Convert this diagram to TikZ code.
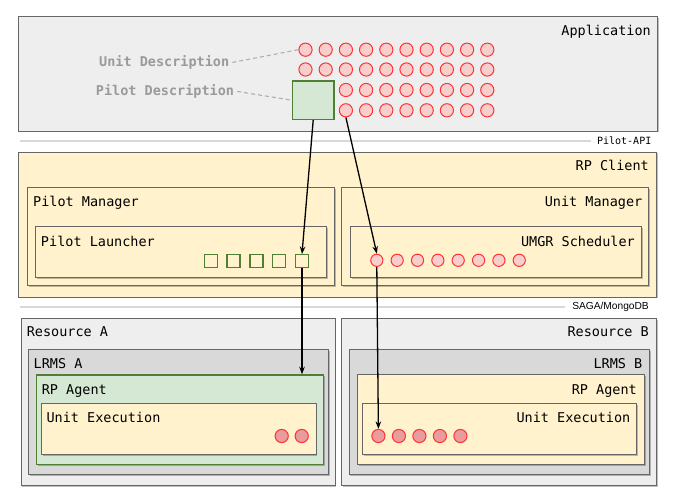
\documentclass[tikz,border=0pt]{standalone}
\usepackage{fontspec}
\setmonofont{DejaVu Sans Mono}
\newfontfamily\labsans{Liberation Sans}
\usetikzlibrary{shadows,arrows.meta}
\definecolor{grayfill}{HTML}{EEEEEE}
\definecolor{lrmsfill}{HTML}{D9D9D9}
\definecolor{yellowfill}{HTML}{FFF2CC}
\definecolor{greenfill}{HTML}{D5E8D4}
\definecolor{greenline}{HTML}{4F7F32}
\definecolor{boxline}{HTML}{666666}
\definecolor{redline}{HTML}{FF3333}
\definecolor{redfill}{HTML}{F8CECC}
\definecolor{execfill}{HTML}{EA9B9B}
\definecolor{desc}{HTML}{9A9A9A}
\definecolor{apiline}{HTML}{D8D8D8}
\begin{document}
\begin{tikzpicture}[x=1pt,y=-1pt,
  shad/.style={drop shadow={shadow xshift=1.2pt,shadow yshift=-1.2pt,opacity=0.25,fill=black}},
  box/.style={draw=boxline,line width=1pt,anchor=north west,inner sep=0,shad},
  gbox/.style={box,fill=grayfill},
  dbox/.style={box,fill=lrmsfill},
  ybox/.style={box,fill=yellowfill},
  grbox/.style={box,fill=greenfill,draw=greenline,line width=1.2pt},
  lab/.style={font=\ttfamily\fontsize{13.5}{15}\selectfont,inner sep=0},
  labr/.style={lab,anchor=base east},
  labl/.style={lab,anchor=base west},
  desclab/.style={font=\ttfamily\bfseries\fontsize{13.5}{15}\selectfont,text=desc,inner sep=3pt,anchor=base},
  small/.style={font=\ttfamily\fontsize{10}{12}\selectfont,inner sep=0,anchor=east},
  ucirc/.style={circle,draw=redline,fill=redfill,minimum size=13.2pt,inner sep=0,line width=1pt},
  scirc/.style={ucirc,minimum size=12.2pt},
  ecirc/.style={ucirc,fill=execfill},
  sq/.style={draw=greenline,fill=yellowfill,minimum width=13pt,minimum height=12.5pt,inner sep=0,line width=1.4pt},
  arr/.style={-{Stealth[length=7.5pt,width=5.5pt]},line width=1.3pt,black},
  dsh/.style={draw=desc!80,line width=1.1pt,dash pattern=on 4pt off 3pt},
  sep/.style={draw=apiline,line width=2pt}]
\useasboundingbox (0,0) rectangle (673,501);

% Application
\node[gbox,minimum width=639pt,minimum height=114.5pt] (app) at (18,16) {};
\node[labr] (applab) at (651,35) {Application};
\foreach \c in {1,...,10}{
  \foreach \r/\yy in {1/49.7,2/69.5}{
    \node[ucirc] (u-\r-\c) at ({305.5+20.2*(\c-1)},\yy) {};
  }
}
\foreach \c in {3,...,10}{
  \foreach \r/\yy in {3/90,4/110.3}{
    \node[ucirc] (u-\r-\c) at ({305.5+20.2*(\c-1)},\yy) {};
  }
}
\node[draw=greenline,fill=greenfill,line width=1.4pt,minimum width=41.5pt,minimum height=38.5pt,inner sep=0] (pdsq) at (313.2,100.2) {};
\node[desclab] (udlab) at (164.2,66.5) {Unit Description};
\node[desclab] (pdlab) at (165,95.5) {Pilot Description};
\draw[dsh] (udlab.east) -- (u-1-1.west);
\draw[dsh] (pdlab.east) -- (pdsq.west);

% Pilot-API
\coordinate (api0) at (20,141);
\node[small] (apilab) at (651.5,141) {Pilot-API};
\draw[sep] (api0) -- ([xshift=-6pt]apilab.west);

% RP Client
\node[ybox,minimum width=638pt,minimum height=145pt] (rpc) at (18,151.7) {};
\node[labr] (rpclab) at (649,170.7) {RP Client};
\node[ybox,minimum width=307pt,minimum height=98pt] (pm) at (27,187.3) {};
\node[labl] (pmlab) at (33,206) {Pilot Manager};
\node[ybox,minimum width=307pt,minimum height=98pt] (um) at (341,187.3) {};
\node[labr] (umlab) at (642.5,206) {Unit Manager};
\node[ybox,minimum width=291pt,minimum height=50.7pt] (pl) at (34.8,226.3) {};
\node[labl] (pllab) at (40.8,246) {Pilot Launcher};
\node[ybox,minimum width=291pt,minimum height=50.7pt] (us) at (350,226.3) {};
\node[labr] (uslab) at (635,246) {UMGR Scheduler};
\foreach \i in {1,...,5}{
  \node[sq] (ps-\i) at ({210.8+22.8*(\i-1)},261) {};
}
\foreach \i in {1,...,8}{
  \node[scirc] (um-\i) at ({376.8+20.35*(\i-1)},260.3) {};
}

% SAGA/MongoDB
\coordinate (saga0) at (20,306.7);
\node[small,font=\labsans\fontsize{10.2}{12}\selectfont] (sagalab) at (649,306.7) {SAGA/MongoDB};
\draw[sep] (saga0) -- ([xshift=-7pt]sagalab.west);

% Resources
\node[gbox,minimum width=314pt,minimum height=166.7pt] (resA) at (20.6,318.3) {};
\node[labl] (resAlab) at (26.6,336.7) {Resource A};
\node[gbox,minimum width=315pt,minimum height=166.7pt] (resB) at (341,318.3) {};
\node[labr] (resBlab) at (649,336.7) {Resource B};
\node[dbox,minimum width=300pt,minimum height=124.7pt] (lrmsA) at (28,349.3) {};
\node[labl] (lrmsAlab) at (33.5,368.3) {LRMS A};
\node[dbox,minimum width=300.5pt,minimum height=124.7pt] (lrmsB) at (348.5,349.3) {};
\node[labr] (lrmsBlab) at (642.5,368.3) {LRMS B};
\node[grbox,minimum width=286.7pt,minimum height=89.7pt] (agA) at (36,374.3) {};
\node[labl] (agAlab) at (41.6,394.3) {RP Agent};
\node[ybox,minimum width=286.8pt,minimum height=89.7pt] (agB) at (357,374.3) {};
\node[labr] (agBlab) at (637,394.3) {RP Agent};
\node[ybox,minimum width=274.3pt,minimum height=50.7pt] (ueA) at (41.2,403.3) {};
\node[labl] (ueAlab) at (46.4,422.7) {Unit Execution};
\node[ybox,minimum width=274.2pt,minimum height=50.7pt] (ueB) at (361.8,403.3) {};
\node[labr] (ueBlab) at (630.5,422.7) {Unit Execution};
\node[ecirc] (ea-1) at (281.7,436) {};
\node[ecirc] (ea-2) at (301.7,436) {};
\foreach \i in {1,...,5}{
  \node[ecirc] (eb-\i) at ({378.4+20.5*(\i-1)},436) {};
}

% Connectors
\draw[arr] (pdsq.south) -- (ps-5.north);
\draw[arr] (ps-5.south) -- (ps-5.south |- agA.north);
\draw[arr] (u-4-3.south) -- (um-1.north);
\draw[arr] (um-1.south) -- (eb-1.north);
\end{tikzpicture}
\end{document}
